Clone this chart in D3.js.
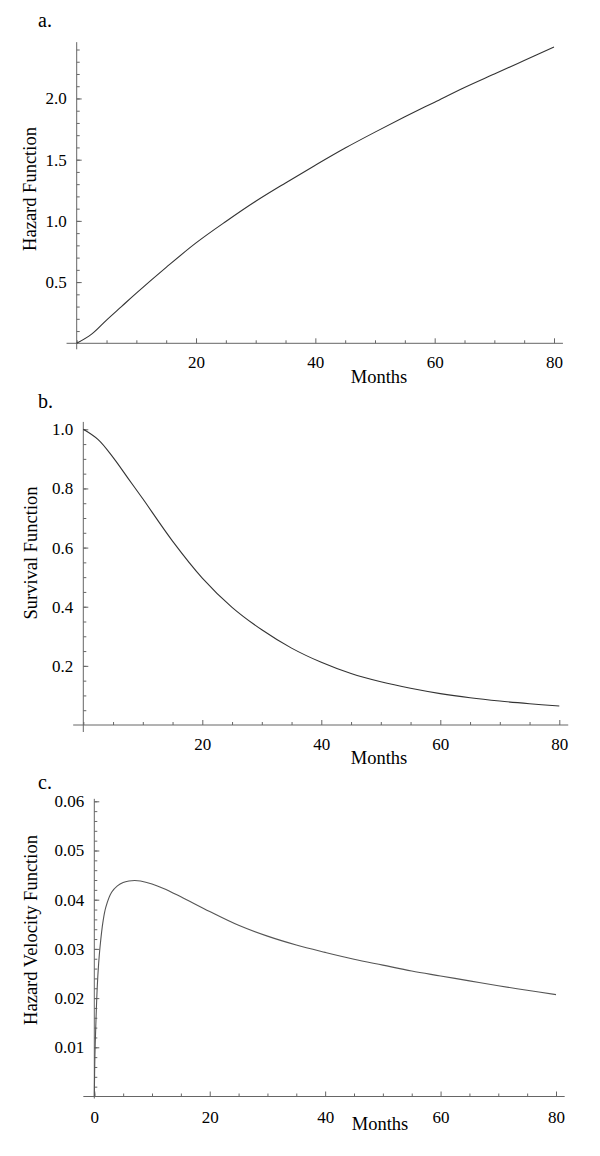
<!DOCTYPE html>
<html><head><meta charset="utf-8">
<script src="https://cdn.jsdelivr.net/npm/d3@7"></script>
<style>body{margin:0;background:#fff}svg text{font-family:"Liberation Serif","Times New Roman",serif;fill:#000}</style>
</head><body><svg id="chart" width="600" height="1156"></svg>
<script>
// ---- data ----
const monthsAB = [0,2.5,5,7.5,10,15,20,25,30,35,40,45,50,55,60,65,70,75,80];
const hazard = [0,0.075,0.19,0.30,0.41,0.62,0.82,0.995,1.16,1.31,1.455,1.595,1.725,1.85,1.97,2.09,2.20,2.31,2.42];
const survival = [1.0,0.965,0.905,0.835,0.765,0.622,0.497,0.398,0.322,0.26,0.212,0.174,0.146,0.124,0.106,0.092,0.081,0.072,0.064];
const monthsC = [0,0.1,0.25,0.5,0.75,1,1.5,2,3,4,5,6,7,8,10,12,15,20,25,30,35,40,45,50,55,60,65,70,75,80];
const hazardVelocity = [0,0.008,0.014,0.022,0.027,0.0305,0.0355,0.0385,0.0415,0.0428,0.0435,0.0438,0.0439,0.0438,0.0432,0.0423,0.0406,0.0376,0.0348,0.0326,0.0308,0.0293,0.0279,0.0267,0.0255,0.0245,0.0235,0.0225,0.0216,0.0207];

const xTicksAB = [20,40,60,80];
const xTicksC = [0,20,40,60,80];
const xMinor = [0,5,10,15,25,30,35,45,50,55,65,70,75];
const yTicksA = [0.5,1.0,1.5,2.0];
const yTicksB = [0.2,0.4,0.6,0.8,1.0];
const yTicksC = [0.01,0.02,0.03,0.04,0.05,0.06];

const panelLetters = ["a.","b.","c."];
const yLabels = ["Hazard Function","Survival Function","Hazard Velocity Function"];
const xLabel = "Months";

const svg = d3.select("#chart");
const AXIS = "#666";

function panel(o){
  const g = svg.append("g");
  const x = d3.scaleLinear().domain([0,80]).range(o.xr);
  const y = d3.scaleLinear().domain(o.yd).range(o.yr);

  // minor ticks
  const minorY = d3.axisLeft(y).tickValues(o.yMinor).tickSize(-3).tickFormat("");
  const mY = g.append("g").attr("transform",`translate(${x(0)},0)`).call(minorY);
  mY.select(".domain").remove();
  mY.selectAll("line").attr("stroke",AXIS);
  const minorX = d3.axisBottom(x).tickValues(xMinor).tickSize(-3).tickFormat("");
  const mX = g.append("g").attr("transform",`translate(0,${y(0)})`).call(minorX);
  mX.select(".domain").remove();
  mX.selectAll("line").attr("stroke",AXIS);

  // major ticks + labels
  const ay = d3.axisLeft(y).tickValues(o.yTicks).tickSizeInner(-5).tickSizeOuter(0).tickPadding(10).tickFormat(o.yFmt);
  const gy = g.append("g").attr("transform",`translate(${x(0)},0)`).call(ay);
  gy.select(".domain").remove();
  gy.selectAll("line").attr("stroke",AXIS);
  gy.selectAll("text").attr("font-size",17).attr("font-family","Liberation Serif").attr("fill","#000");

  const ax = d3.axisBottom(x).tickValues(o.xTicks).tickSizeInner(-5).tickSizeOuter(0).tickPadding(o.xPad).tickFormat(d3.format("d"));
  const gx = g.append("g").attr("transform",`translate(0,${y(0)})`).call(ax);
  gx.select(".domain").remove();
  gx.selectAll("line").attr("stroke",AXIS);
  gx.selectAll("text").attr("font-size",17).attr("font-family","Liberation Serif").attr("fill","#000");

  // axis lines (crossing, with overhang)
  g.append("line").attr("x1",x(0)).attr("x2",x(0)).attr("y1",y(o.yTop)).attr("y2",y(0)+o.yOver)
    .attr("stroke",AXIS).attr("stroke-width",1);
  g.append("line").attr("x1",x(o.xLeft)).attr("x2",x(81.5)).attr("y1",y(0)).attr("y2",y(0))
    .attr("stroke",AXIS).attr("stroke-width",1);

  // curve
  const line = d3.line().x((d,i)=>x(o.xs[i])).y(d=>y(d)).curve(d3.curveCatmullRom.alpha(0.5));
  g.append("path").datum(o.ys).attr("d",line).attr("fill","none")
    .attr("stroke",o.color).attr("stroke-width",1.1);

  // labels
  g.append("text").attr("x",38).attr("y",o.letterY).attr("font-size",20).text(o.letter);
  g.append("text").attr("transform",`translate(${o.ylx},${o.ylCenter}) rotate(-90)`)
    .attr("text-anchor","middle").attr("font-size",18.5).text(o.ylabel);
  g.append("text").attr("x",o.mx).attr("y",o.my).attr("text-anchor","middle").attr("font-size",18.5).text(xLabel);
}

panel({xr:[76.7,554], yd:[0,2.4], yr:[343.3,343.3-293.8], yTicks:yTicksA, yMinor:d3.range(1,25).map(d=>d/10),
  yFmt:d3.format(".1f"), xTicks:xTicksAB, xPad:13, yTop:2.46, yOver:6, xLeft:-1.7,
  xs:monthsAB, ys:hazard, color:"#333", letter:panelLetters[0], letterY:27,
  ylabel:yLabels[0], ylx:36, ylCenter:189, mx:379, my:383});

panel({xr:[83.3,559.3], yd:[0,1], yr:[725,429.3], yTicks:yTicksB, yMinor:d3.range(1,21).map(d=>d/20),
  yFmt:d3.format(".1f"), xTicks:xTicksAB, xPad:13, yTop:1.025, yOver:7, xLeft:-1.7,
  xs:monthsAB, ys:survival, color:"#333", letter:panelLetters[1], letterY:408,
  ylabel:yLabels[1], ylx:37, ylCenter:553, mx:379, my:764});

panel({xr:[94.3,556], yd:[0,0.06], yr:[1096.5,801.3], yTicks:yTicksC, yMinor:d3.range(1,31).map(d=>d*0.002),
  yFmt:d3.format(".2f"), xTicks:xTicksC, xPad:14.5, yTop:0.0605, yOver:2, xLeft:-1.9,
  xs:monthsC, ys:hazardVelocity, color:"#555", letter:panelLetters[2], letterY:789,
  ylabel:yLabels[2], ylx:37, ylCenter:930, mx:380, my:1130});
</script></body></html>
